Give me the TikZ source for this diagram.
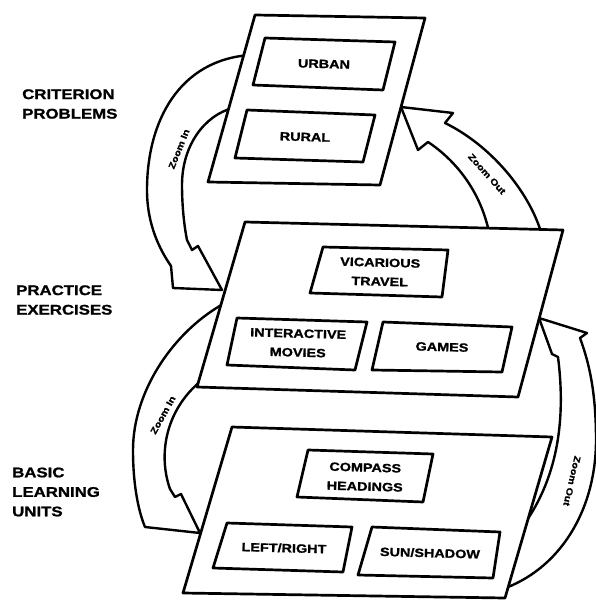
\documentclass[tikz,border=0pt]{standalone}
\usepackage{fontspec}
\newfontfamily\lblfont{Liberation Sans}[FakeStretch=1.2,FakeBold=1.2]
\begin{document}
\begin{tikzpicture}[x=1pt,y=-1pt,
  panel/.style={draw, fill=white, line width=2.7pt, line join=round},
  inbox/.style={draw, fill=white, line width=2.7pt, line join=round},
  blockarrow/.style={draw, fill=white, line width=2.4pt, line join=round},
  lbl/.style={font=\lblfont\bfseries\fontsize{14}{19.5}\selectfont, align=left, anchor=west, inner sep=0pt},
  boxtxt/.style={font=\lblfont\bfseries\fontsize{12}{19}\selectfont, align=center, inner sep=0pt, rotate=-1.5},
  arrtxt/.style={font=\lblfont\bfseries\fontsize{9}{10}\selectfont, inner sep=0pt}]
\useasboundingbox (0,0) rectangle (595,601);

% ---------- block arrows (behind the panels) ----------
% Zoom In: criterion -> practice
\draw[blockarrow] (250,55) .. controls (180,60) and (147,120) .. (147,190)
  .. controls (147,225) and (160,250) .. (171,266) -- (173,288) -- (222,290)
  -- (198,246) -- (192,250) -- (187,240)
  .. controls (184,225) and (182,205) .. (182,185)
  .. controls (182,145) and (205,115) .. (233,108) -- cycle;
% Zoom Out: practice -> criterion
\draw[blockarrow] (541,232) .. controls (528,190) and (490,145) .. (445,123)
  -- (453,113) -- (401,107) -- (418,150) -- (428,142)
  .. controls (455,160) and (480,190) .. (489,232) -- cycle;
% Zoom In: practice -> basic
\draw[blockarrow] (225,303) .. controls (175,330) and (133,390) .. (133,450)
  .. controls (133,490) and (140,515) .. (145,527) -- (200,533)
  -- (181,494) -- (175,497) -- (170,489)
  .. controls (158,455) and (165,410) .. (202,380) -- cycle;
% Zoom Out: basic -> practice
\draw[blockarrow] (500,590) .. controls (560,570) and (596,510) .. (596,440)
  .. controls (596,395) and (590,365) .. (580,338) -- (587,333) -- (539,318)
  -- (552,354) -- (558,357)
  .. controls (566,420) and (558,480) .. (520,530) -- cycle;

\node[arrtxt, rotate=68] (zin1) at (179,149) {Zoom In};
\node[arrtxt, rotate=-48] (zout1) at (487,174) {Zoom Out};
\node[arrtxt, rotate=61] (zin2) at (163,415) {Zoom In};
\node[arrtxt, rotate=-103] (zout2) at (572,481) {Zoom Out};

% ---------- panels ----------
\draw[panel] (255,15) -- (425,18) -- (380,185) -- (208,182) -- cycle;
\draw[inbox] (265,38) -- (395,42) -- (383,90) -- (253,85) -- cycle;
\draw[inbox] (247,110) -- (375,115) -- (363,162) -- (235,158) -- cycle;
\node[boxtxt] (urban) at (324,64) {URBAN};
\node[boxtxt] (rural) at (305,137) {RURAL};

\draw[panel] (245,222) -- (563,230) -- (518,397) -- (197,387) -- cycle;
\draw[inbox] (323,247) -- (448,250) -- (442,297) -- (310,293) -- cycle;
\draw[inbox] (237,318) -- (367,322) -- (355,370) -- (227,365) -- cycle;
\draw[inbox] (383,322) -- (512,327) -- (502,372) -- (372,370) -- cycle;
\node[boxtxt] (vic) at (380,272) {VICARIOUS\\TRAVEL};
\node[boxtxt] (imov) at (298,343) {INTERACTIVE\\MOVIES};
\node[boxtxt] (games) at (442,347) {GAMES};

\draw[panel] (232,427) -- (552,437) -- (505,598) -- (183,593) -- cycle;
\draw[inbox] (308,450) -- (433,454) -- (423,502) -- (297,497) -- cycle;
\draw[inbox] (227,523) -- (352,527) -- (343,572) -- (213,568) -- cycle;
\draw[inbox] (372,527) -- (500,532) -- (493,578) -- (358,575) -- cycle;
\node[boxtxt] (comp) at (365,477) {COMPASS\\HEADINGS};
\node[boxtxt] (lr) at (284,548) {LEFT/RIGHT};
\node[boxtxt] (sun) at (430,553) {SUN/SHADOW};

% ---------- level labels ----------
\node[lbl] (crit) at (22,104) {CRITERION\\PROBLEMS};
\node[lbl] (prac) at (16,300) {PRACTICE\\EXERCISES};
\node[lbl] (basic) at (12,492) {BASIC\\LEARNING\\UNITS};
\end{tikzpicture}
\end{document}
